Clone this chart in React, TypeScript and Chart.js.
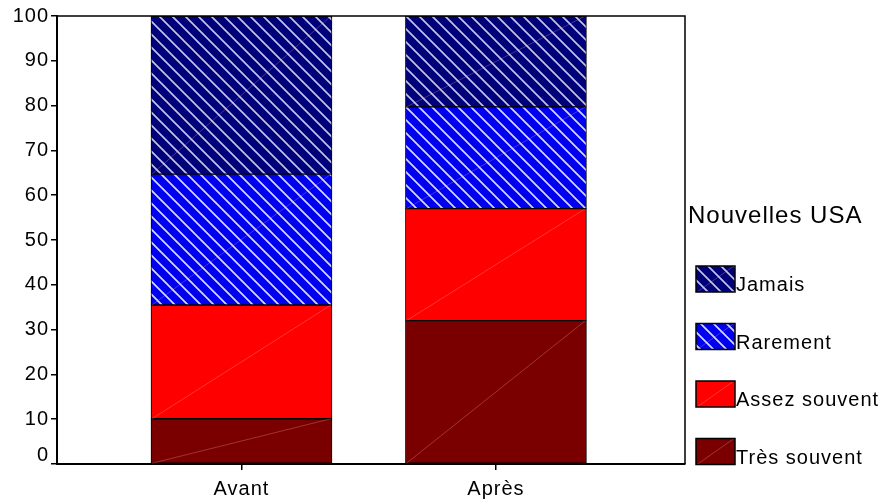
import React, { useEffect, useRef } from 'react';
import { Chart, registerables } from 'chart.js';

Chart.register(...registerables);

const categories = ['Avant', 'Après'];
const seriesNames = ['Très souvent', 'Assez souvent', 'Rarement', 'Jamais'];
const tresSouvent = [10.1, 32.0];
const assezSouvent = [25.4, 25.0];
const rarement = [29.2, 22.7];
const jamais = [35.3, 20.3];
const yTickValues = [0, 10, 20, 30, 40, 50, 60, 70, 80, 90, 100];
const legendTitle = 'Nouvelles USA';

const FONT = '"Liberation Sans", Arial, sans-serif';

function stripePattern(bg: string, stripe: string): CanvasPattern | string {
  const s = 13;
  const c = document.createElement('canvas');
  c.width = s;
  c.height = s;
  const g = c.getContext('2d');
  if (!g) return bg;
  g.fillStyle = bg;
  g.fillRect(0, 0, s, s);
  g.strokeStyle = stripe;
  g.lineWidth = 1.7;
  g.beginPath();
  for (const off of [-s, 0, s]) {
    g.moveTo(off - 1, -1);
    g.lineTo(off + s + 1, s + 1);
  }
  g.stroke();
  return g.createPattern(c, 'repeat') || bg;
}

export default function App() {
  const ref = useRef<HTMLCanvasElement | null>(null);

  useEffect(() => {
    const canvas = ref.current;
    if (!canvas) return;

    const fills = [
      '#7a0000',
      '#ff0000',
      stripePattern('#0000f0', 'rgba(225,225,255,0.95)'),
      stripePattern('#00007a', 'rgba(215,215,240,0.9)'),
    ];
    const values = [tresSouvent, assezSouvent, rarement, jamais];

    const datasets = seriesNames.map((name, si) => ({
      label: name,
      data: categories.map((_, ci) => ({ x: ci + 1, y: values[si][ci] })),
      backgroundColor: fills[si] as any,
      borderColor: '#000',
      borderWidth: 1,
      borderSkipped: false as any,
      barThickness: 181,
    }));

    const textSpacing = {
      id: 'textSpacing',
      beforeDraw(chart: any) {
        const ctx = chart.ctx;
        ctx.fillStyle = '#fff';
        ctx.fillRect(0, 0, chart.width, chart.height);
        try { (ctx as any).letterSpacing = '1px'; } catch (e) {}
      },
    };

    const diag = {
      id: 'diag',
      afterDatasetsDraw(chart: any) {
        const ctx = chart.ctx;
        ctx.save();
        ctx.strokeStyle = 'rgba(255,190,190,0.35)';
        ctx.lineWidth = 0.8;
        chart.data.datasets.forEach((_: any, di: number) => {
          const meta = chart.getDatasetMeta(di);
          meta.data.forEach((el: any) => {
            const p = el.getProps(['x', 'y', 'base', 'width'], true);
            ctx.beginPath();
            ctx.moveTo(p.x - p.width / 2 + 1, p.base);
            ctx.lineTo(p.x + p.width / 2 - 1, p.y);
            ctx.stroke();
          });
        });
        ctx.restore();
      },
    };

    const frame = {
      id: 'frame',
      afterDraw(chart: any) {
        const ctx = chart.ctx;
        const a = chart.chartArea;
        ctx.save();
        ctx.strokeStyle = '#000';
        ctx.lineWidth = 1.5;
        ctx.beginPath();
        ctx.moveTo(a.left, a.top);
        ctx.lineTo(a.right, a.top);
        ctx.lineTo(a.right, a.bottom);
        ctx.stroke();
        ctx.restore();
      },
    };

    const legendPlugin = {
      id: 'customLegend',
      afterDraw(chart: any) {
        const ctx = chart.ctx;
        const a = chart.chartArea;
        const lx = a.right + 3;
        ctx.save();
        try { (ctx as any).letterSpacing = '1px'; } catch (e) {}
        ctx.fillStyle = '#000';
        ctx.textAlign = 'left';
        ctx.textBaseline = 'alphabetic';
        ctx.font = `24px ${FONT}`;
        ctx.fillText(legendTitle, lx, 223);
        const items = [...chart.data.datasets].reverse();
        items.forEach((ds: any, i: number) => {
          const top = 266 + i * 57.5;
          const bx = lx + 8;
          ctx.fillStyle = ds.backgroundColor;
          ctx.fillRect(bx, top, 39, 26);
          ctx.strokeStyle = 'rgba(255,190,190,0.35)';
          ctx.lineWidth = 0.8;
          ctx.beginPath();
          ctx.moveTo(bx + 1, top + 26);
          ctx.lineTo(bx + 38, top);
          ctx.stroke();
          ctx.strokeStyle = '#000';
          ctx.lineWidth = 1.5;
          ctx.strokeRect(bx, top, 39, 26);
          ctx.fillStyle = '#000';
          ctx.font = `20px ${FONT}`;
          ctx.fillText(ds.label, bx + 40, top + 25);
        });
        ctx.restore();
      },
    };

    const tickFont = (c: any) => ({
      family: FONT,
      size: 20,
      lineHeight: c && c.tick && c.tick.value === 0 ? 0.9 : 1.2,
    });

    const chart = new Chart(canvas, {
      type: 'bar',
      data: { datasets: datasets as any },
      options: {
        animation: false,
        responsive: false,
        maintainAspectRatio: false,
        layout: { padding: { left: 0, top: 16, right: 200, bottom: 0 } },
        plugins: {
          legend: { display: false },
          tooltip: { enabled: false },
        },
        scales: {
          x: {
            type: 'linear',
            stacked: true,
            offset: false,
            min: 0.275,
            max: 2.743,
            afterBuildTicks: (s: any) => {
              s.ticks = categories.map((_, i) => ({ value: i + 1 }));
            },
            afterFit: (s: any) => {
              s.height = 38;
            },
            ticks: {
              callback: (v: any) => categories[Math.round(v) - 1] ?? '',
              color: '#000',
              font: { family: FONT, size: 20 },
              padding: 7,
              autoSkip: false,
              maxRotation: 0,
            },
            grid: { offset: false, drawOnChartArea: false, drawTicks: true, tickLength: 6, color: '#000', lineWidth: 1.5 },
            border: { color: '#000', width: 2 },
          },
          y: {
            stacked: true,
            min: 0,
            max: 100,
            afterBuildTicks: (s: any) => {
              s.ticks = yTickValues.map((v) => ({ value: v }));
            },
            afterFit: (s: any) => {
              s.width = 57;
            },
            ticks: {
              callback: (v: any) => (v === 0 ? ['0', ''] : String(v)),
              color: '#000',
              font: tickFont as any,
              padding: 2,
            },
            grid: { drawOnChartArea: false, drawTicks: true, tickLength: 6, color: '#000', lineWidth: 1.5 },
            border: { color: '#000', width: 2 },
          },
        },
      },
      plugins: [textSpacing, diag, frame, legendPlugin],
    });

    return () => chart.destroy();
  }, []);

  return (
    <div style={{ position: 'fixed', left: 0, top: 0, width: 885, height: 502, background: '#fff' }}>
      <canvas ref={ref} width={885} height={502} style={{ display: 'block', width: 885, height: 502 }} />
    </div>
  );
}
